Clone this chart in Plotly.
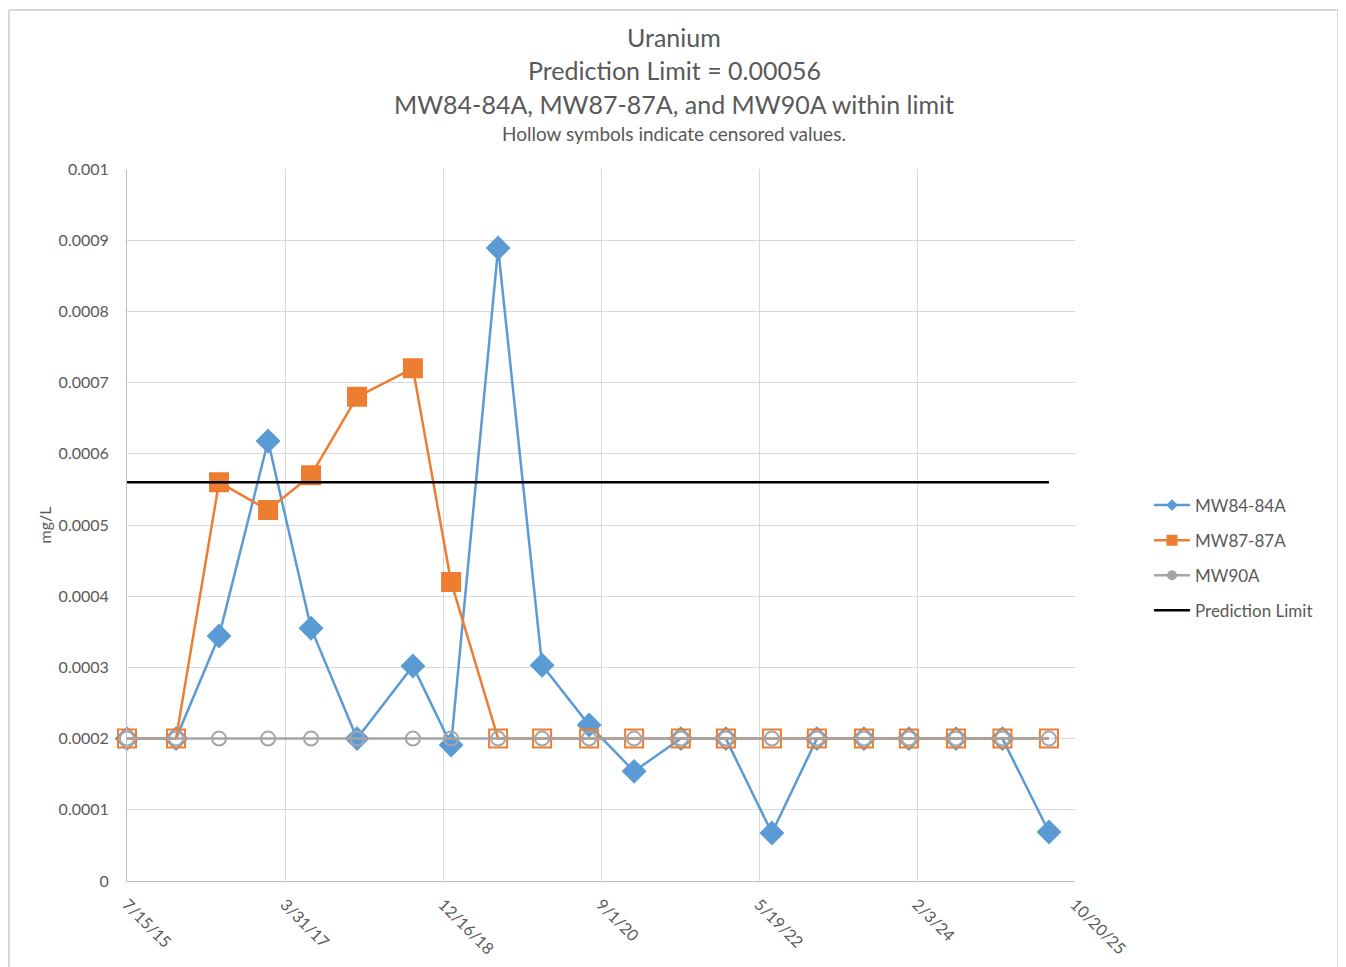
import plotly.graph_objects as go

# Sample dates (semi-annual monitoring)
dates = [
    "2015-07-15", "2016-01-25", "2016-07-13", "2017-01-23", "2017-07-12",
    "2018-01-10", "2018-08-19", "2019-01-17", "2019-07-22", "2020-01-12",
    "2020-07-16", "2021-01-10", "2021-07-14", "2022-01-08", "2022-07-09",
    "2023-01-03", "2023-07-08", "2024-01-02", "2024-07-06", "2025-01-06",
    "2025-07-09",
]

# Uranium results, mg/L
mw84 = [0.0002, 0.0002, 0.000344, 0.000618, 0.000355, 0.0002, 0.000302,
        0.000191, 0.000889, 0.000303, 0.000219, 0.000154, 0.0002, 0.0002,
        0.0000674, 0.0002, 0.0002, 0.0002, 0.0002, 0.0002, 0.0000688]
mw87 = [0.0002, 0.0002, 0.00056, 0.000521, 0.00057, 0.00068, 0.00072,
        0.00042, 0.0002, 0.0002, 0.0002, 0.0002, 0.0002, 0.0002, 0.0002,
        0.0002, 0.0002, 0.0002, 0.0002, 0.0002, 0.0002]
mw90 = [0.0002] * 21

# censored (non-detect) flags -> hollow symbols
mw84_cens = [1, 1, 0, 0, 0, 0, 0, 0, 0, 0, 0, 0, 1, 1, 0, 1, 1, 1, 1, 1, 0]
mw87_cens = [1, 1, 0, 0, 0, 0, 0, 0, 1, 1, 1, 1, 1, 1, 1, 1, 1, 1, 1, 1, 1]
mw90_cens = [1] * 21

pred_limit = 0.00056
limit_dates = [dates[0], dates[-1]]

tick_dates = ["2015-07-15", "2017-03-31", "2018-12-16", "2020-09-01",
              "2022-05-19", "2024-02-03", "2025-10-20"]
tick_text = ["7/15/15", "3/31/17", "12/16/18", "9/1/20", "5/19/22", "2/3/24", "10/20/25"]

BLUE = "#5B9BD5"
ORANGE = "#ED7D31"
GRAY = "#A5A5A5"
TXT = "#595959"
FONT = "Lato"

series = [
    ("MW84-84A", mw84, mw84_cens, BLUE, "diamond", 17, 9),
    ("MW87-87A", mw87, mw87_cens, ORANGE, "square", 18, 11),
    ("MW90A", mw90, mw90_cens, GRAY, "circle", 14, 10),
]

fig = go.Figure()

for name, vals, cens, col, sym, size, lsize in series:
    fills = ["rgba(0,0,0,0)" if c else col for c in cens]
    fig.add_trace(go.Scatter(
        x=dates, y=vals, mode="lines+markers", name=name,
        line=dict(color=col, width=2.5),
        marker=dict(symbol=sym, size=size, color=fills,
                    line=dict(color=col, width=2)),
        cliponaxis=False, showlegend=False, legendgroup=name,
    ))

fig.add_trace(go.Scatter(
    x=limit_dates, y=[pred_limit, pred_limit], mode="lines",
    line=dict(color="black", width=2.5), showlegend=False,
    legendgroup="Prediction Limit",
))

# legend entries (filled symbols)
for name, vals, cens, col, sym, size, lsize in series:
    fig.add_trace(go.Scatter(
        x=[None], y=[None], mode="lines+markers", name=name,
        line=dict(color=col, width=2.5),
        marker=dict(symbol=sym, size=lsize, color=col),
        legendgroup=name,
    ))
fig.add_trace(go.Scatter(
    x=[None], y=[None], mode="lines", name="Prediction Limit",
    line=dict(color="black", width=2.5), legendgroup="Prediction Limit",
))

# page is drawn with an 8px body margin, so work in screen pixels
OFF = 8
W, H = 1346 - OFF, 967 - OFF
L, T = 127 - OFF, 169 - OFF
R, B = 271, 86
pw, ph = W - L - R, H - T - B
bottom_screen = OFF + H - B


def px(xs):
    return (xs - OFF - L) / pw


def py(ys):
    return (bottom_screen - ys) / ph


titles = [
    ("Uranium", 37, 25),
    ("Prediction Limit = 0.00056", 70, 25),
    ("MW84-84A, MW87-87A, and MW90A within limit", 104, 25),
    ("Hollow symbols indicate censored values.", 133, 19),
]
for txt, ypix, fs in titles:
    fig.add_annotation(text=txt, xref="paper", yref="paper", x=px(674), y=py(ypix),
                       xanchor="center", yanchor="middle", showarrow=False,
                       font=dict(family=FONT, size=fs, color=TXT))

# outer chart border: left, top, right (bottom edge runs off the page)
border = dict(color="#D9D9D9", width=2)
for x0, y0, x1, y1 in [(9, 10, 9, 990), (9, 10, 1338, 10), (1338, 10, 1338, 990)]:
    fig.add_shape(type="line", xref="paper", yref="paper",
                  x0=px(x0), y0=py(y0), x1=px(x1), y1=py(y1), line=border)

fig.update_layout(
    width=W, height=H,
    margin=dict(l=L, r=R, t=T, b=B, autoexpand=False),
    paper_bgcolor="white", plot_bgcolor="white",
    font=dict(family=FONT, color=TXT, size=16),
    legend=dict(x=px(1149), y=py(558), xanchor="left", yanchor="middle",
                font=dict(family=FONT, size=17, color=TXT),
                traceorder="grouped", tracegroupgap=10, itemwidth=36),
    xaxis=dict(
        type="date", range=[tick_dates[0], tick_dates[-1]],
        tickvals=tick_dates, ticktext=tick_text, tickangle=45,
        showgrid=True, gridcolor="#D9D9D9", gridwidth=1,
        showline=True, linecolor="#BFBFBF", linewidth=1,
        ticks="", ticklabelstandoff=7, automargin=False,
        tickfont=dict(family=FONT, size=16, color=TXT),
    ),
    yaxis=dict(
        range=[0, 0.001], dtick=0.0001, tickformat="~g",
        showgrid=True, gridcolor="#D9D9D9", gridwidth=1,
        showline=True, linecolor="#BFBFBF", linewidth=1, zeroline=False,
        ticks="", ticklabelstandoff=14, automargin=False,
        tickfont=dict(family=FONT, size=16, color=TXT),
        title=dict(text="mg/L", standoff=3, font=dict(family=FONT, size=16, color=TXT)),
    ),
)

fig.write_html("out.html")
